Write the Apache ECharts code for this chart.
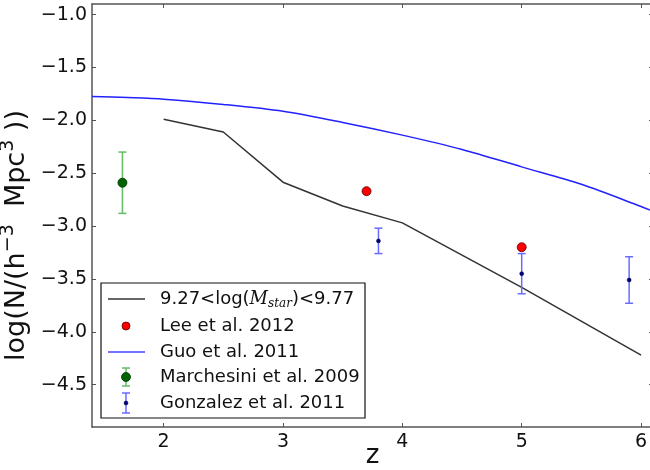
<!DOCTYPE html>
<html>
<head>
<meta charset="utf-8">
<script src="https://cdn.jsdelivr.net/npm/echarts@6/dist/echarts.min.js"></script>
<style>
  html, body { margin: 0; padding: 0; background: #fff; }
  #chart { width: 650px; height: 470px; }
</style>
</head>
<body>
<div id="chart"></div>
<script>
// Tick values
const xTicks = [2, 3, 4, 5, 6];
const yTicks = [-4.5, -4.0, -3.5, -3.0, -2.5, -2.0, -1.5, -1.0];

// Model: number density in the 9.27 < log(Mstar) < 9.77 bin
const binZ    = [2.0, 2.5, 3.0, 3.5, 4.0, 5.0, 6.0];
const binLogN = [-1.99, -2.11, -2.585, -2.81, -2.97, -3.58, -4.22];

// Guo et al. 2011
const guoZ    = [1.4, 1.7, 2.0, 2.5, 3.0, 3.5, 4.0, 4.5, 5.0, 5.5, 6.0, 6.1];
const guoLogN = [-1.775, -1.785, -1.80, -1.85, -1.915, -2.02, -2.14, -2.275, -2.44, -2.605, -2.815, -2.86];

// Lee et al. 2012
const leeZ    = [3.7, 5.0];
const leeLogN = [-2.67, -3.20];

// Marchesini et al. 2009
const marZ    = [1.655];
const marLogN = [-2.59];
const marErr  = [0.29];

// Gonzalez et al. 2011
const gonZ    = [3.8, 5.0, 5.9];
const gonLogN = [-3.14, -3.45, -3.51];
const gonErr  = [0.12, 0.19, 0.22];

const FONT = 'DejaVu Sans';
const fmtMinus = v => v.toFixed(1).replace('-', '\u2212');

function pairs(xs, ys) { return xs.map((x, i) => [x, ys[i]]); }

function errorSeries(name, xs, ys, errs, color) {
  return {
    name: name,
    type: 'custom',
    z: 3,
    clip: true,
    data: xs.map((x, i) => [x, ys[i] - errs[i], ys[i] + errs[i]]),
    renderItem: function (params, api) {
      const lo = api.coord([api.value(0), api.value(1)]);
      const hi = api.coord([api.value(0), api.value(2)]);
      const cap = 4;
      const style = { stroke: color, lineWidth: 1.5, fill: null };
      return {
        type: 'group',
        children: [
          { type: 'line', shape: { x1: lo[0], y1: lo[1], x2: hi[0], y2: hi[1] }, style: style },
          { type: 'line', shape: { x1: lo[0] - cap, y1: lo[1], x2: lo[0] + cap, y2: lo[1] }, style: style },
          { type: 'line', shape: { x1: hi[0] - cap, y1: hi[1], x2: hi[0] + cap, y2: hi[1] }, style: style }
        ]
      };
    }
  };
}

const axisLineStyle = { color: '#555', width: 1.5 };
const tickStyle = { color: '#555', width: 1 };

const chart = echarts.init(document.getElementById('chart'), null, { renderer: 'canvas' });

// Legend box drawn as plain graphics
const legendLeft = 101, legendTop = 283, legendW = 264, legendH = 135;
const rowY = [299, 326, 352, 377, 403];
const markX = 126;
const textX = 160;
const legendText = { fontFamily: FONT, fontSize: 18, fill: '#111' };

const legendGraphics = [
  { type: 'rect', shape: { x: legendLeft, y: legendTop, width: legendW, height: legendH },
    style: { fill: '#fff', stroke: '#111', lineWidth: 1.2 }, z: 10 },
  // model line
  { type: 'line', shape: { x1: 108, y1: rowY[0], x2: 145, y2: rowY[0] },
    style: { stroke: '#333', lineWidth: 1.5 }, z: 11 },
  { type: 'text', x: textX, y: rowY[0], z: 11,
    style: {
      text: '9.27<log({m|M}{s|star})<9.77',
      fontFamily: FONT, fontSize: 18, fill: '#111', verticalAlign: 'middle',
      rich: {
        m: { fontFamily: 'DejaVu Serif', fontStyle: 'italic', fontSize: 18, fill: '#111' },
        s: { fontFamily: 'DejaVu Serif', fontStyle: 'italic', fontSize: 12, fill: '#111', padding: [9, 0, 0, 0] }
      }
    } },
  // Lee
  { type: 'circle', shape: { cx: markX, cy: rowY[1], r: 4 },
    style: { fill: '#ff0000', stroke: '#550000', lineWidth: 0.8 }, z: 11 },
  { type: 'text', x: textX, y: rowY[1], z: 11,
    style: Object.assign({ text: 'Lee et al. 2012', verticalAlign: 'middle' }, legendText) },
  // Guo
  { type: 'line', shape: { x1: 108, y1: rowY[2], x2: 145, y2: rowY[2] },
    style: { stroke: '#4444ff', lineWidth: 1.5 }, z: 11 },
  { type: 'text', x: textX, y: rowY[2], z: 11,
    style: Object.assign({ text: 'Guo et al. 2011', verticalAlign: 'middle' }, legendText) },
  // Marchesini
  { type: 'line', shape: { x1: markX, y1: rowY[3] - 9, x2: markX, y2: rowY[3] + 9 },
    style: { stroke: '#66bb66', lineWidth: 1.5 }, z: 11 },
  { type: 'line', shape: { x1: markX - 4, y1: rowY[3] - 9, x2: markX + 4, y2: rowY[3] - 9 },
    style: { stroke: '#66bb66', lineWidth: 1.5 }, z: 11 },
  { type: 'line', shape: { x1: markX - 4, y1: rowY[3] + 9, x2: markX + 4, y2: rowY[3] + 9 },
    style: { stroke: '#66bb66', lineWidth: 1.5 }, z: 11 },
  { type: 'circle', shape: { cx: markX, cy: rowY[3], r: 4.5 },
    style: { fill: '#006400', stroke: '#003300', lineWidth: 0.8 }, z: 12 },
  { type: 'text', x: textX, y: rowY[3], z: 11,
    style: Object.assign({ text: 'Marchesini et al. 2009', verticalAlign: 'middle' }, legendText) },
  // Gonzalez
  { type: 'line', shape: { x1: markX, y1: rowY[4] - 10, x2: markX, y2: rowY[4] + 10 },
    style: { stroke: '#6a6aff', lineWidth: 1.5 }, z: 11 },
  { type: 'line', shape: { x1: markX - 4, y1: rowY[4] - 10, x2: markX + 4, y2: rowY[4] - 10 },
    style: { stroke: '#6a6aff', lineWidth: 1.5 }, z: 11 },
  { type: 'line', shape: { x1: markX - 4, y1: rowY[4] + 10, x2: markX + 4, y2: rowY[4] + 10 },
    style: { stroke: '#6a6aff', lineWidth: 1.5 }, z: 11 },
  { type: 'circle', shape: { cx: markX, cy: rowY[4], r: 2 },
    style: { fill: '#00007a', stroke: '#00004a', lineWidth: 0.5 }, z: 12 },
  { type: 'text', x: textX, y: rowY[4], z: 11,
    style: Object.assign({ text: 'Gonzalez et al. 2011', verticalAlign: 'middle' }, legendText) }
];

const option = {
  backgroundColor: '#fff',
  animation: false,
  grid: { left: 92, right: -3, top: 4, bottom: 43, containLabel: false,
          outerBoundsMode: 'none', show: false },
  xAxis: [
    {
      type: 'value', min: 1.4, max: 6.1, position: 'bottom',
      name: 'z', nameLocation: 'middle', nameGap: 16, nameMoveOverlap: false,
      nameTextStyle: { fontFamily: FONT, fontSize: 26, color: '#111', verticalAlign: 'top' },
      axisLine: { show: true, onZero: false, lineStyle: axisLineStyle },
      axisTick: { show: true, inside: true, length: 4, lineStyle: tickStyle, customValues: xTicks },
      axisLabel: { show: true, margin: 6, fontFamily: FONT, fontSize: 19, color: '#111',
                   customValues: xTicks, formatter: v => String(v) },
      splitLine: { show: false }
    },
    {
      type: 'value', min: 1.4, max: 6.1, position: 'top',
      axisLine: { show: true, onZero: false, lineStyle: axisLineStyle },
      axisTick: { show: true, inside: true, length: 4, lineStyle: tickStyle, customValues: xTicks },
      axisLabel: { show: false },
      splitLine: { show: false }
    }
  ],
  yAxis: [
    {
      type: 'value', min: -4.9, max: -0.9, position: 'left',
      name: 'log(N/(h{sup|\u22123}  Mpc{sup|3} ))',
      nameLocation: 'middle', nameRotate: 90, nameGap: 57, nameMoveOverlap: false,
      nameTextStyle: {
        fontFamily: FONT, fontSize: 27, color: '#111', padding: [0, 40, 0, 0],
        rich: { sup: { fontFamily: FONT, fontSize: 19, color: '#111', padding: [0, 0, 17, 0] } }
      },
      axisLine: { show: true, onZero: false, lineStyle: axisLineStyle },
      axisTick: { show: true, inside: true, length: 4, lineStyle: tickStyle, customValues: yTicks },
      axisLabel: { show: true, margin: 5, fontFamily: FONT, fontSize: 19, color: '#111',
                   customValues: yTicks, formatter: v => fmtMinus(v) },
      splitLine: { show: false }
    },
    {
      type: 'value', min: -4.9, max: -0.9, position: 'right',
      axisLine: { show: true, onZero: false, lineStyle: axisLineStyle },
      axisTick: { show: true, inside: true, length: 4, lineStyle: tickStyle, customValues: yTicks },
      axisLabel: { show: false },
      splitLine: { show: false }
    }
  ],
  graphic: legendGraphics,
  series: [
    {
      name: '9.27<log(Mstar)<9.77', type: 'line', data: pairs(binZ, binLogN),
      showSymbol: false, symbol: 'none', clip: true, z: 2,
      lineStyle: { color: '#333', width: 1.5 }
    },
    {
      name: 'Guo et al. 2011', type: 'line', data: pairs(guoZ, guoLogN),
      showSymbol: false, symbol: 'none', smooth: 0.3, clip: true, z: 2,
      lineStyle: { color: '#2222ff', width: 1.5 }
    },
    errorSeries('Marchesini et al. 2009', marZ, marLogN, marErr, '#66bb66'),
    errorSeries('Gonzalez et al. 2011', gonZ, gonLogN, gonErr, '#6a6aff'),
    {
      name: 'Lee et al. 2012', type: 'scatter', data: pairs(leeZ, leeLogN),
      symbol: 'circle', symbolSize: 9, z: 4,
      itemStyle: { color: '#ff0000', borderColor: '#550000', borderWidth: 0.8, opacity: 1 }
    },
    {
      name: 'Marchesini et al. 2009', type: 'scatter', data: pairs(marZ, marLogN),
      symbol: 'circle', symbolSize: 9, z: 4,
      itemStyle: { color: '#006400', borderColor: '#003300', borderWidth: 0.8, opacity: 1 }
    },
    {
      name: 'Gonzalez et al. 2011', type: 'scatter', data: pairs(gonZ, gonLogN),
      symbol: 'circle', symbolSize: 4, z: 4,
      itemStyle: { color: '#00007a', borderColor: '#00004a', borderWidth: 0.5, opacity: 1 }
    }
  ]
};

chart.setOption(option);
</script>
</body>
</html>
